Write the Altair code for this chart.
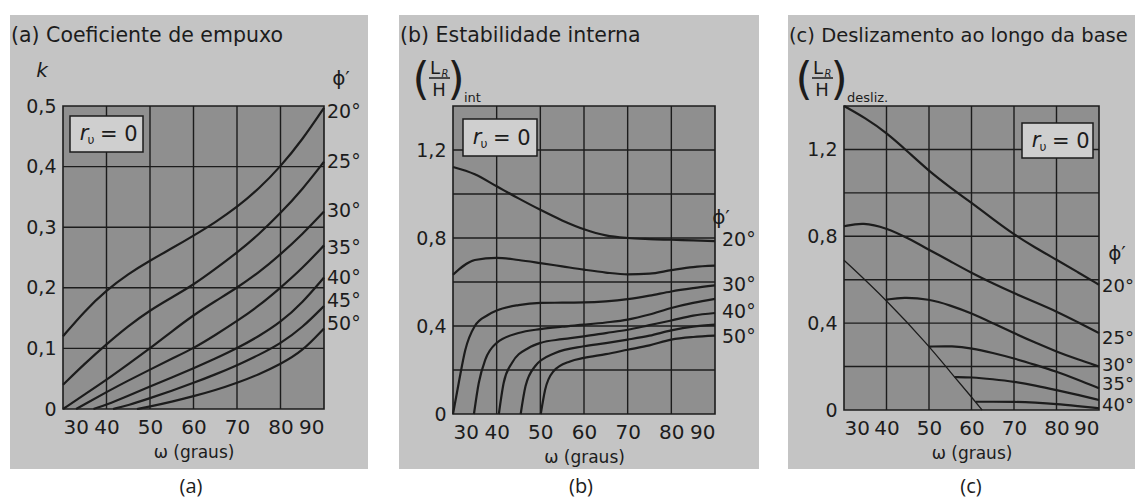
import altair as alt
import pandas as pd

OMEGA_TICKS = [30, 40, 50, 60, 70, 80, 90]

# ---------------- (a) Coeficiente de empuxo : k vs omega ----------------
a_w20 = [30, 35, 40, 45, 50, 55, 60, 65, 70, 75, 80, 85, 90]
a_k20 = [0.12, 0.162, 0.196, 0.223, 0.245, 0.265, 0.286, 0.308, 0.333, 0.363, 0.40, 0.444, 0.497]
a_w25 = [30, 35, 40, 45, 50, 55, 60, 65, 70, 75, 80, 85, 90]
a_k25 = [0.04, 0.075, 0.107, 0.137, 0.163, 0.184, 0.205, 0.231, 0.258, 0.288, 0.323, 0.362, 0.408]
a_w30 = [30, 35, 40, 45, 50, 55, 60, 65, 70, 75, 80, 85, 90]
a_k30 = [0.0, 0.024, 0.048, 0.074, 0.10, 0.128, 0.155, 0.178, 0.20, 0.225, 0.255, 0.288, 0.326]
a_w35 = [33, 35, 40, 45, 50, 55, 60, 65, 70, 75, 80, 85, 90]
a_k35 = [0.0, 0.008, 0.028, 0.047, 0.065, 0.083, 0.10, 0.122, 0.145, 0.17, 0.20, 0.232, 0.27]
a_w40 = [37, 40, 45, 50, 55, 60, 65, 70, 75, 80, 85, 90]
a_k40 = [0.0, 0.007, 0.022, 0.037, 0.052, 0.067, 0.083, 0.10, 0.12, 0.143, 0.175, 0.217]
a_w45 = [41.5, 45, 50, 55, 60, 65, 70, 75, 80, 85, 90]
a_k45 = [0.0, 0.006, 0.018, 0.03, 0.043, 0.057, 0.072, 0.089, 0.108, 0.134, 0.17]
a_w50 = [47, 50, 55, 60, 65, 70, 75, 80, 85, 90]
a_k50 = [0.0, 0.004, 0.012, 0.021, 0.031, 0.043, 0.057, 0.074, 0.095, 0.133]
A_LABELS = ["20°", "25°", "30°", "35°", "40°", "45°", "50°"]
A_LABEL_V = [0.49, 0.408, 0.326, 0.266, 0.216, 0.179, 0.141]
A_YTICKS = [0, 0.1, 0.2, 0.3, 0.4, 0.5]

# ---------------- (b) Estabilidade interna : (LR/H)int vs omega ----------------
b_w20 = [30, 35, 40, 45, 50, 55, 60, 65, 70, 75, 80, 85, 90]
b_v20 = [1.123, 1.09, 1.035, 0.98, 0.928, 0.88, 0.84, 0.812, 0.80, 0.795, 0.792, 0.789, 0.786]
b_w25 = [30, 35, 40, 45, 50, 55, 60, 65, 70, 75, 80, 85, 90]
b_v25 = [0.633, 0.70, 0.71, 0.70, 0.686, 0.671, 0.656, 0.643, 0.635, 0.638, 0.654, 0.668, 0.674]
b_w30 = [30, 31.3, 32.8, 35, 38, 40, 45, 50, 55, 60, 65, 70, 75, 80, 85, 90]
b_v30 = [0.0, 0.14, 0.29, 0.40, 0.45, 0.47, 0.495, 0.505, 0.506, 0.507, 0.512, 0.522, 0.538, 0.557, 0.572, 0.585]
b_w35 = [34.8, 35.9, 37.4, 40, 45, 50, 55, 60, 65, 70, 75, 80, 85, 90]
b_v35 = [0.0, 0.141, 0.247, 0.323, 0.368, 0.386, 0.397, 0.406, 0.416, 0.429, 0.452, 0.482, 0.505, 0.523]
b_w40 = [40.5, 41.6, 43.5, 47.3, 50, 55, 60, 65, 70, 75, 80, 85, 90]
b_v40 = [0.0, 0.141, 0.232, 0.30, 0.323, 0.34, 0.353, 0.368, 0.383, 0.404, 0.425, 0.447, 0.459]
b_w45 = [45.5, 46.6, 48.8, 53.4, 60, 65, 70, 75, 80, 85, 90]
b_v45 = [0.0, 0.126, 0.217, 0.277, 0.308, 0.322, 0.338, 0.356, 0.38, 0.397, 0.406]
b_w50 = [50.1, 51.1, 53, 56.8, 60, 65, 70, 75, 80, 85, 90]
b_v50 = [0.0, 0.11, 0.194, 0.239, 0.255, 0.272, 0.292, 0.312, 0.338, 0.35, 0.356]
B_LABELS = ["20°", "30°", "40°", "50°"]
B_LABEL_V = [0.79, 0.588, 0.465, 0.35]
B_YTICKS = [0, 0.4, 0.8, 1.2]
B_GRID = [0.2, 0.4, 0.6, 0.8, 1.0, 1.2]

# ---------------- (c) Deslizamento ao longo da base ----------------
c_w20 = [30, 35, 40, 45, 50, 55, 60, 65, 70, 75, 80, 85, 90]
c_v20 = [1.40, 1.345, 1.277, 1.19, 1.10, 1.025, 0.954, 0.88, 0.808, 0.748, 0.692, 0.635, 0.577]
c_w25 = [30, 34.5, 40, 45, 50, 55, 60, 65, 70, 75, 80, 85, 90]
c_v25 = [0.846, 0.865, 0.838, 0.792, 0.738, 0.685, 0.631, 0.583, 0.538, 0.496, 0.454, 0.405, 0.354]
c_w30 = [40, 43.9, 50, 55, 60, 65, 70, 75, 80, 85, 90]
c_v30 = [0.508, 0.52, 0.511, 0.482, 0.446, 0.40, 0.354, 0.31, 0.269, 0.233, 0.20]
c_w35 = [50, 55.6, 60, 65, 70, 75, 80, 85, 90]
c_v35 = [0.292, 0.295, 0.285, 0.263, 0.238, 0.208, 0.177, 0.14, 0.10]
c_w40 = [56, 60, 65, 70, 75, 80, 85, 90]
c_v40 = [0.152, 0.151, 0.142, 0.131, 0.113, 0.092, 0.07, 0.046]
c_w45 = [61, 65, 70, 75, 80, 85, 90]
c_v45 = [0.038, 0.038, 0.038, 0.034, 0.028, 0.018, 0.008]
c_wlim = [30, 40, 50, 55, 60, 62.5]
c_vlim = [0.69, 0.507, 0.295, 0.175, 0.06, 0.0]
C_LABELS = ["20°", "25°", "30°", "35°", "40°"]
C_LABEL_V = [0.567, 0.327, 0.203, 0.115, 0.018]
C_YTICKS = [0, 0.4, 0.8, 1.2]
C_GRID = [0.2, 0.4, 0.6, 0.8, 1.0, 1.2]

FONT = "DejaVu Sans"
FONT2 = "Open Sans"
INK = "#1c1c1c"
CARD = "#c4c4c4"
PLOT = "#8f8f8f"
BOXC = "#cfcfcf"

TOP = 106


def one():
    return alt.Chart(pd.DataFrame({"z": [0]}))


def rect(x0, x1, y0, y1, fill, stroke=None, sw=0):
    kw = dict(fill=fill)
    if stroke:
        kw.update(stroke=stroke, strokeWidth=sw)
    return one().mark_rect(**kw).encode(
        x=alt.value(x0), x2=alt.value(x1), y=alt.value(y0), y2=alt.value(y1))


def txt(s, x, y, size, align="left", baseline="alphabetic", style="normal", font=FONT):
    return one().mark_text(text=s, align=align, baseline=baseline, fontSize=size,
                           fontStyle=style, font=font, color=INK).encode(
        x=alt.value(x), y=alt.value(y))


def hline(x0, x1, y, w=1.3):
    return one().mark_rule(color=INK, strokeWidth=w).encode(
        x=alt.value(x0), x2=alt.value(x1), y=alt.value(y))


def ru_box(x0, y0, x1, y1):
    ym = (y0 + y1) / 2
    return [
        rect(x0, x1, y0, y1, BOXC, INK, 1.5),
        txt("r", x0 + 14, ym, 21, align="center", baseline="middle", style="italic"),
        txt("υ", x0 + 21, ym + 6, 12, align="center", baseline="middle"),
        txt("= 0", x0 + 30, ym + 1, 21, baseline="middle"),
    ]


def lrh(lx, sub):
    return [
        txt("(", lx, -25, 44, align="center", baseline="middle"),
        txt("L", lx + 14, -37, 18, align="center", baseline="middle"),
        txt("R", lx + 24, -32, 10, align="center", baseline="middle", style="italic"),
        hline(lx + 8, lx + 29, -28, 1.5),
        txt("H", lx + 18, -15, 18, align="center", baseline="middle"),
        txt(")", lx + 35, -25, 44, align="center", baseline="middle"),
        txt(sub, lx + 43, -4, 13),
    ]


def curves_df(curves):
    rows = []
    for name, ws, vs, sw in curves:
        for w, v in zip(ws, vs):
            rows.append({"phi": name, "w": w, "v": v, "sw": sw})
    return pd.DataFrame(rows)


def panel(curves, ymax, yticks, hgrid, labels, label_v, width, height,
          card_x, label_x, title, title_size, label_size, interp, extras, bg=False):
    xscale = alt.Scale(domain=[30, 90], nice=False)
    yscale = alt.Scale(domain=[0, ymax], nice=False)
    expr = "datum.value == 0 ? '0' : replace(format(datum.value, '.1f'), '.', ',')"
    xaxis = alt.Axis(values=OMEGA_TICKS, labelFont=FONT, labelFontSize=20, labelColor=INK,
                     labelPadding=8, title="ω (graus)", titleFont=FONT, titleFontSize=17,
                     titleFontWeight="normal", titleColor=INK, titlePadding=7, zindex=2)
    yaxis = alt.Axis(values=yticks, labelExpr=expr, labelFont=FONT, labelFontSize=19,
                     labelColor=INK, labelPadding=7, title=None, zindex=2)

    layers = []
    if bg:
        layers.append(rect(-63, 1072, -TOP, 501 - TOP, "#ffffff"))
    layers.append(rect(card_x[0], card_x[1], -91, 363, CARD))
    layers.append(rect(0, width, 0, height, PLOT, INK, 1.6))
    layers.append(alt.Chart(pd.DataFrame({"w": OMEGA_TICKS[1:-1]})).mark_rule(
        color=INK, strokeWidth=1.4).encode(x=alt.X("w:Q", scale=xscale)))
    layers.append(alt.Chart(pd.DataFrame({"v": hgrid})).mark_rule(
        color=INK, strokeWidth=1.4).encode(y=alt.Y("v:Q", scale=yscale)))
    layers.append(alt.Chart(curves_df(curves)).mark_line(
        interpolate=interp, color=INK).encode(
        x=alt.X("w:Q", scale=xscale, axis=xaxis),
        y=alt.Y("v:Q", scale=yscale, axis=yaxis),
        detail="phi:N",
        strokeWidth=alt.StrokeWidth("sw:Q", scale=None, legend=None)))
    layers.append(alt.Chart(pd.DataFrame({"t": labels, "v": label_v})).mark_text(
        align="left", baseline="middle", font=FONT, fontSize=label_size, color=INK).encode(
        x=alt.value(label_x), y=alt.Y("v:Q", scale=yscale), text="t:N"))
    layers.append(txt(title, card_x[0] + 1, -64, title_size))
    layers.extend(extras)
    return alt.layer(*layers).properties(width=width, height=height)


A_CURVES = [("20°", a_w20, a_k20, 2.2), ("25°", a_w25, a_k25, 2.2), ("30°", a_w30, a_k30, 2.2),
            ("35°", a_w35, a_k35, 2.2), ("40°", a_w40, a_k40, 2.2), ("45°", a_w45, a_k45, 2.2),
            ("50°", a_w50, a_k50, 2.2)]
B_CURVES = [("20°", b_w20, b_v20, 2.2), ("25°", b_w25, b_v25, 2.2), ("30°", b_w30, b_v30, 2.2),
            ("35°", b_w35, b_v35, 2.2), ("40°", b_w40, b_v40, 2.2), ("45°", b_w45, b_v45, 2.2),
            ("50°", b_w50, b_v50, 2.2)]
C_CURVES = [("20°", c_w20, c_v20, 2.2), ("25°", c_w25, c_v25, 2.2), ("30°", c_w30, c_v30, 2.2),
            ("35°", c_w35, c_v35, 2.2), ("40°", c_w40, c_v40, 2.2), ("45°", c_w45, c_v45, 2.2),
            ("lim", c_wlim, c_vlim, 1.3)]

WA, HA = 261, 303
WB, HB = 262, 308
WC, HC = 255, 304

pa = panel(A_CURVES, 0.5, A_YTICKS, [0.1, 0.2, 0.3, 0.4], A_LABELS, A_LABEL_V, WA, HA,
           (-53, 305), WA + 3, "(a) Coeficiente de empuxo", 20.5, 19, "basis",
           [txt("k", -21, -35, 20, align="center", baseline="middle", style="italic"),
            txt("ϕ′", 278, -27, 20, align="center", baseline="middle"),
            txt("(a)", 128, 381, 20, align="center", baseline="middle", font=FONT2)]
           + ru_box(7, 10, 80, 46), bg=True)

pb = panel(B_CURVES, 1.4, B_YTICKS, B_GRID, B_LABELS, B_LABEL_V, WB, HB,
           (-54, 306), WB + 7, "(b) Estabilidade interna", 20.5, 19, "monotone",
           lrh(-32, "int")
           + [txt("ϕ′", 268, 112, 20, align="center", baseline="middle"),
              txt("(b)", 128, 381, 20, align="center", baseline="middle", font=FONT2)]
           + ru_box(10, 13, 84, 50))

pc = panel(C_CURVES, 1.4, C_YTICKS, C_GRID, C_LABELS, C_LABEL_V, WC, HC,
           (-56, 291), WC + 3, "(c) Deslizamento ao longo da base", 19.5, 18, "basis",
           lrh(-40, "desliz.")
           + [txt("ϕ′", 273, 148, 20, align="center", baseline="middle"),
              txt("(c)", 127, 381, 20, align="center", baseline="middle", font=FONT2)]
           + ru_box(178, 17, 249, 52))

chart = alt.hconcat(pa, pb, pc, spacing=129, bounds="flush").properties(
    padding=0, background="#ffffff"
).configure_view(stroke=None).configure_axis(grid=False, ticks=False, domain=False)

chart.save("out.html", embed_options={"renderer": "svg", "actions": False})
